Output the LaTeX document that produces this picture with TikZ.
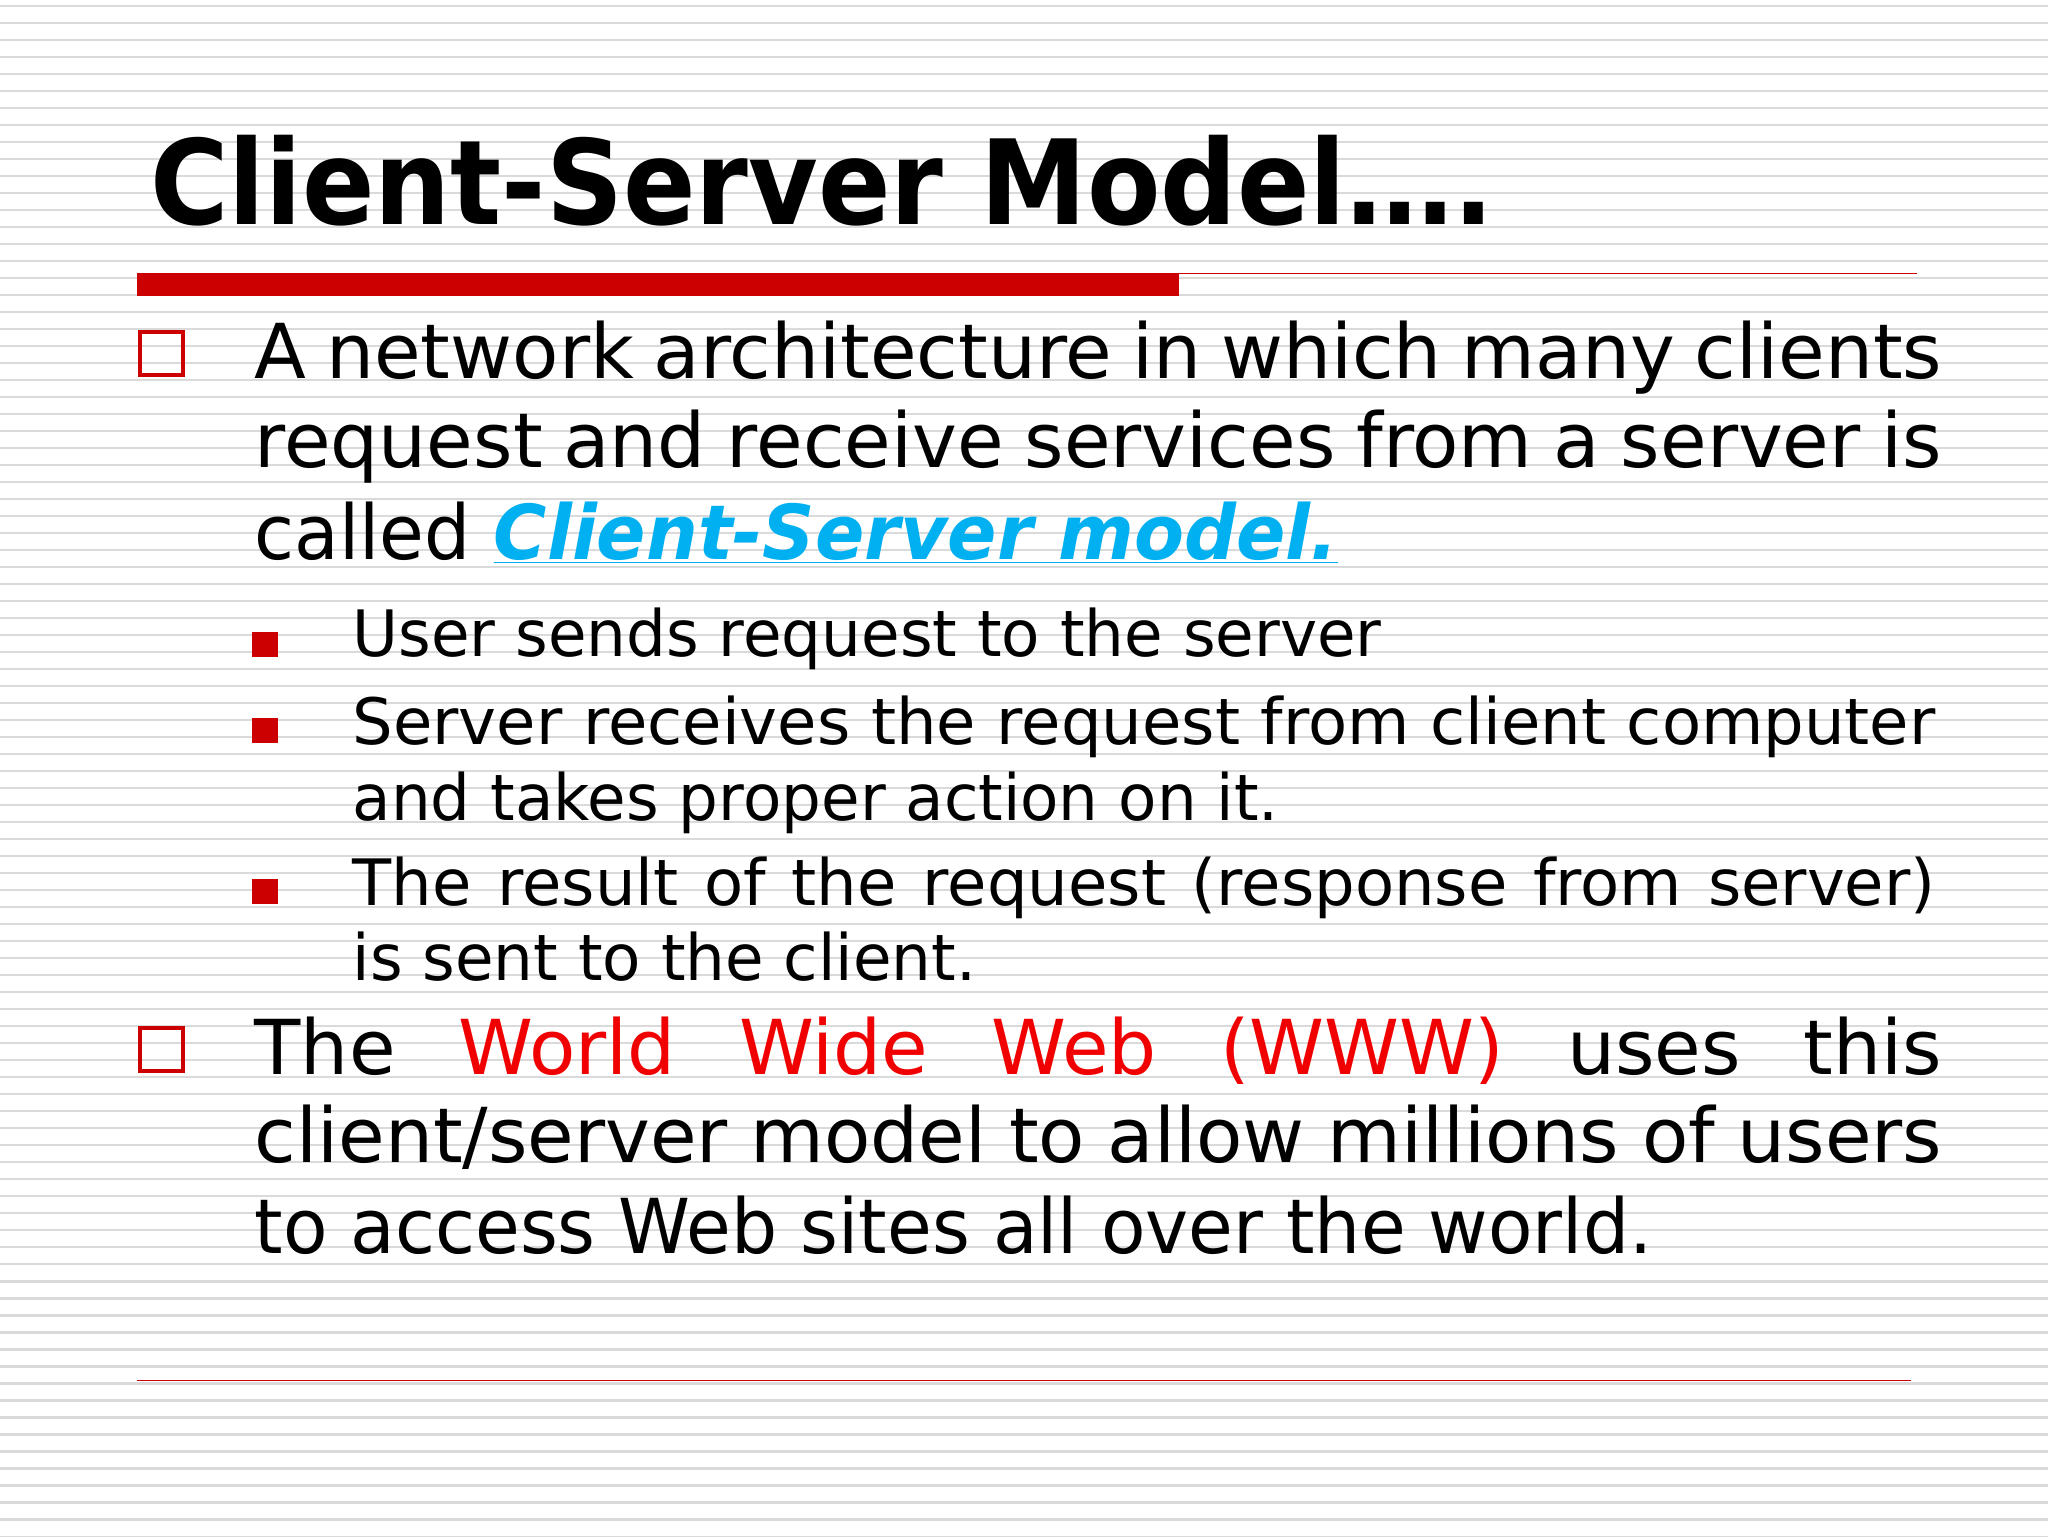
\documentclass[tikz,border=0pt]{standalone}
\usepackage{fontspec}
\setmainfont{DejaVu Sans}
\usetikzlibrary{calc}
\definecolor{dred}{RGB}{204,0,0}
\definecolor{bred}{RGB}{240,0,0}
\definecolor{lblue}{RGB}{0,176,240}
\definecolor{stripe}{RGB}{218,218,218}
\begin{document}
\begin{tikzpicture}[x=1pt,y=-1pt,
  ln/.style={anchor=base west,inner sep=0pt,outer sep=0pt},
  bigtxt/.style={ln,font=\fontsize{58}{69}\selectfont},
  subtxt/.style={ln,font=\fontsize{49}{58}\selectfont},
  hollow/.style={draw=dred,line width=3pt,fill=none},
  filled/.style={fill=dred,draw=none}]
\useasboundingbox (0,0) rectangle (1568,1176);
\fill[white] (0,0) rectangle (1568,1176);
\foreach \i in {0,...,90}{
  \draw[stripe,line width=1.6pt] (0,4.6+13.02*\i) -- (1568,4.6+13.02*\i);
}
% title
\node[ln,font=\bfseries\fontsize{90}{100}\selectfont] (title) at (115,172) {\scalebox{0.91}[1]{Client-Server Model….}};
\fill[dred] (105,209) rectangle (903,227);
\draw[dred,line width=1.3pt] (903,209.5) -- (1468,209.5);
\draw[dred,line width=1.3pt] (105,1057) -- (1463,1057);
% bullet 1
\draw[hollow] (107,254) rectangle (140,287);
\node[bigtxt] (l1) at (195,290) {\makebox[1292pt][s]{A network architecture in which many clients}};
\node[bigtxt] (l2) at (195,358) {\makebox[1292pt][s]{request and receive services from a server is}};
\node[bigtxt] (l3) at (195,428) {\scalebox{0.96}[1]{called \textcolor{lblue}{\bfseries\itshape\underline{Client-Server model.}}}};
% sub bullets
\fill[filled] (193,484) rectangle (213,503);
\node[subtxt] (s1) at (270,503) {\scalebox{0.98}[1]{User sends request to the server}};
\fill[filled] (193,550) rectangle (213,569);
\node[subtxt] (s2) at (270,570) {\makebox[1212pt][s]{Server receives the request from client computer}};
\node[subtxt] (s3) at (270,628) {\scalebox{0.98}[1]{and takes proper action on it.}};
\fill[filled] (193,673) rectangle (213,692);
\node[subtxt] (s4) at (270,693) {\makebox[1212pt][s]{The result of the request (response from server)}};
\node[subtxt] (s5) at (270,751) {\scalebox{0.98}[1]{is sent to the client.}};
% bullet 2
\draw[hollow] (107,787) rectangle (140,820);
\node[bigtxt] (m1) at (195,823) {\makebox[1292pt][s]{The \textcolor{bred}{World Wide Web (WWW)} uses this}};
\node[bigtxt] (m2) at (195,890) {\makebox[1292pt][s]{client/server model to allow millions of users}};
\node[bigtxt] (m3) at (195,960) {\scalebox{0.96}[1]{to access Web sites all over the world.}};
\end{tikzpicture}
\end{document}
